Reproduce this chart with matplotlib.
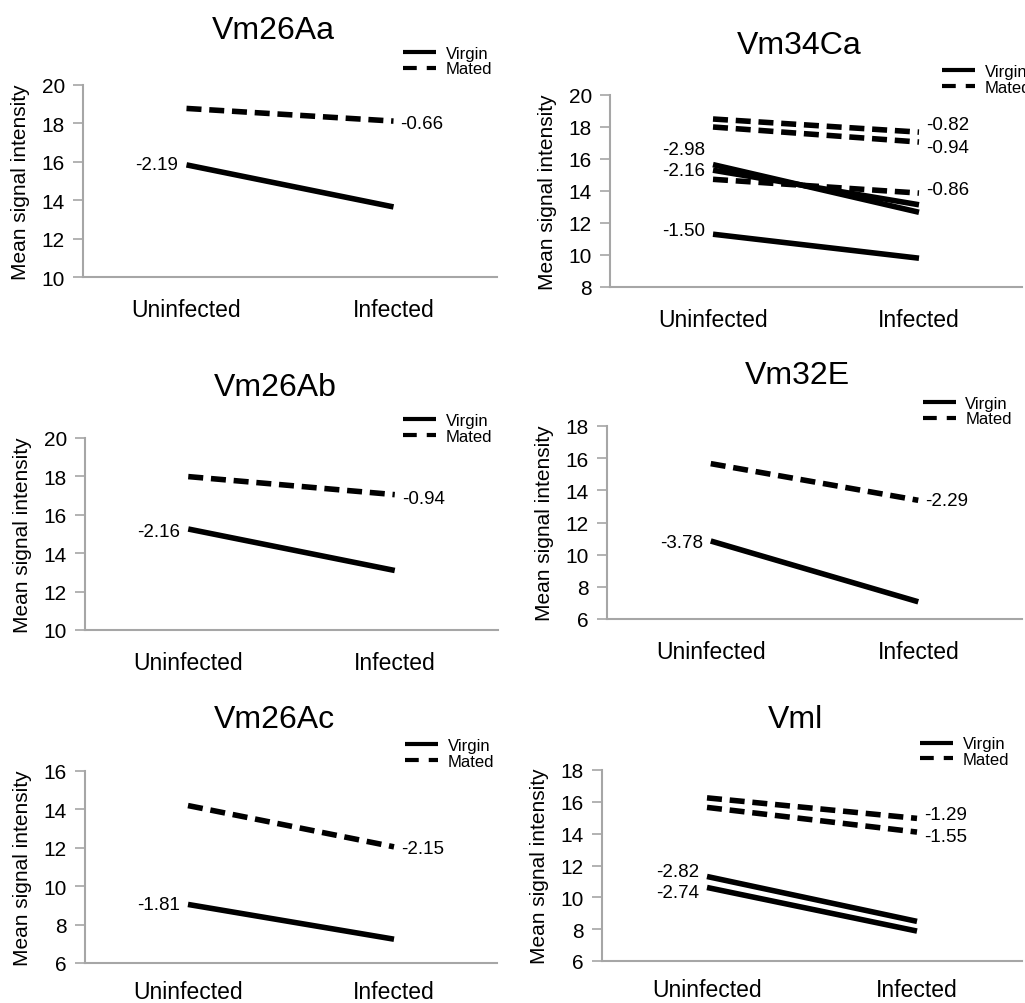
import matplotlib
matplotlib.use('Agg')
import matplotlib.pyplot as plt
from matplotlib.lines import Line2D

plt.rcParams['font.family'] = ['Liberation Sans', 'DejaVu Sans']

# Data
genes = ['Vm26Aa', 'Vm34Ca', 'Vm26Ab', 'Vm32E', 'Vm26Ac', 'Vml']
conditions = ['Uninfected', 'Infected']

virgin_uninfected = [[15.84], [15.65, 15.30, 11.30], [15.26], [10.85], [9.05], [11.31, 10.62]]
virgin_infected = [[13.65], [12.67, 13.14, 9.80], [13.10], [7.07], [7.24], [8.49, 7.88]]
virgin_change = [['-2.19'], ['-2.98', '-2.16', '-1.50'], ['-2.16'], ['-3.78'], ['-1.81'], ['-2.82', '-2.74']]

mated_uninfected = [[18.78], [18.50, 18.00, 14.73], [17.99], [15.66], [14.20], [16.25, 15.65]]
mated_infected = [[18.12], [17.68, 17.06, 13.87], [17.05], [13.38], [12.05], [14.96, 14.10]]
mated_change = [['-0.66'], ['-0.82', '-0.94', '-0.86'], ['-0.94'], ['-2.29'], ['-2.15'], ['-1.29', '-1.55']]

y_min = [10, 8, 10, 6, 6, 6]
y_max = [20, 20, 20, 18, 16, 18]

# layout (pixels: left, top, right, bottom of each plot area)
W, H = 1025, 1004
axes_px = [(83, 86, 497, 278), (610, 96, 1022, 288),
           (85, 439, 498, 631), (607, 427, 1022, 620),
           (85, 772, 497, 964), (602, 771, 1022, 962)]
legend_pos = [(0.773, 1.125), (0.806, 1.08), (0.77, 1.05),
              (0.761, 1.078), (0.777, 1.09), (0.757, 1.095)]
title_pad = [34, 30, 31, 31, 32, 31]
xlabel_pad = [15, 15, 15, 15, 12, 12]
# vertical nudges (pixels) for the value labels where lines overlap
virgin_dy = [[0], [15, 0, 4], [-2], [-2], [0], [5, -5]]
mated_dy = [[-2], [8, -5, 4], [-4], [0], [-2], [4, -4]]

grey = '#a6a6a6'
dash = (0, (2.7, 1.4))

fig = plt.figure(figsize=(W / 100, H / 100), dpi=100)

for i, gene in enumerate(genes):
    l, t, r, b = axes_px[i]
    ax = fig.add_axes([l / W, 1 - b / H, (r - l) / W, (b - t) / H])
    x = [0, 1]

    for u, inf, lab, dy in zip(virgin_uninfected[i], virgin_infected[i], virgin_change[i], virgin_dy[i]):
        ax.plot(x, [u, inf], color='black', lw=4, solid_capstyle='butt')
        ax.annotate(lab, (0, u), xytext=(-8, dy), textcoords='offset pixels',
                    ha='right', va='center', fontsize=13.5)

    for u, inf, lab, dy in zip(mated_uninfected[i], mated_infected[i], mated_change[i], mated_dy[i]):
        ax.plot(x, [u, inf], color='black', lw=4, linestyle=dash)
        ax.annotate(lab, (1, inf), xytext=(7, dy), textcoords='offset pixels',
                    ha='left', va='center', fontsize=13.5)

    ax.set_xlim(-0.5, 1.5)
    ax.set_ylim(y_min[i], y_max[i])
    ax.set_yticks(range(y_min[i], y_max[i] + 1, 2))
    ax.set_xticks(x, conditions, fontsize=16.5)
    ax.tick_params(axis='x', length=0, pad=xlabel_pad[i])
    ax.tick_params(axis='y', length=7, width=1.2, color=grey, labelsize=15, pad=6)
    for side in ['top', 'right']:
        ax.spines[side].set_visible(False)
    for side in ['left', 'bottom']:
        ax.spines[side].set_color(grey)
        ax.spines[side].set_linewidth(1.5)

    ax.set_ylabel('Mean signal intensity', fontsize=15, labelpad=8)
    ax.set_title(gene, fontsize=23, pad=title_pad[i], x=0.46)

    handles = [Line2D([], [], color='black', lw=3, solid_capstyle='butt'),
               Line2D([], [], color='black', lw=3, linestyle=(0, (3.3, 2.4)))]
    ax.legend(handles, ['Virgin', 'Mated'], loc='center left',
              bbox_to_anchor=legend_pos[i], frameon=False, fontsize=12,
              handlelength=2.0, handletextpad=0.55, labelspacing=0.05,
              borderpad=0, borderaxespad=0)

fig.savefig('out.png', dpi=100)
